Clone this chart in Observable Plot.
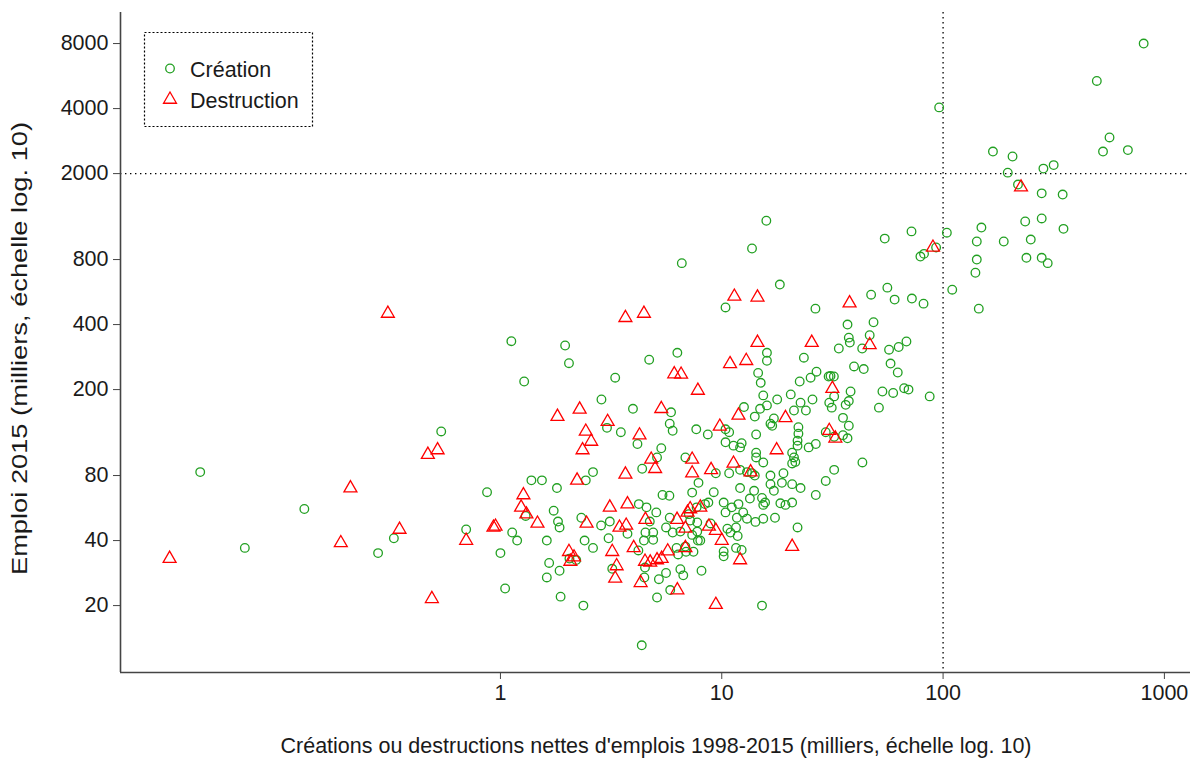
<!DOCTYPE html>
<html><head><meta charset="utf-8">
<script src="https://cdn.jsdelivr.net/npm/d3@7"></script>
<script src="https://cdn.jsdelivr.net/npm/@observablehq/plot@0.6"></script>
<style>
body{margin:0;background:#fff;}
#chart svg{display:block;}
</style></head><body><div id="chart"></div>
<script>
// Emploi 2015 vs créations / destructions nettes d'emplois 1998-2015 (milliers)
const creation = [
  [0.044,83],[0.13,56],[0.33,41],[0.70,45],[0.87,67],[0.28,35],[0.07,37],[0.54,128],
  [1.12,335],[1.96,320],[2.04,265],[1.28,218],[3.3,227],[2.86,180],[3.03,133],[3.5,127],[2.62,83],[1.38,76],[1.54,76],[2.43,76],
  [1.80,70],[1.30,52],[1.74,55],[1.82,49],[1.85,46],[2.32,51],[2.85,47],[3.12,49],[1.13,43.6],[1.19,40],[1.0,35],[1.62,40],[2.40,40],[2.62,37],[3.08,41],[2.2,32.5],[2.05,33],[1.66,31.5],[1.85,29],[1.62,27],[1.05,24],[1.87,22],[2.37,20],[3.2,29.6],
  [5.4,65],[5.8,64.5],[7.35,66.7],[7.85,74],[9.2,67],[4.22,59],[4.57,57],[5.06,54],[3.75,43],[4.73,49],[5.82,51],[7.1,53],[7.7,57],[8.4,59],[8.7,60],[7.2,49.5],[7.75,48.5],[6.5,44],[7.35,42.5],[7.75,44],[8.9,48],[7.8,40],[8.0,40],[5.6,46],[6.0,43.6],[4.52,43.6],[4.9,43.6],[4.45,40],[4.9,40.3],[4.2,36],[6.25,37],[6.85,37.5],[6.35,34.5],[6.9,35.5],[7.45,35.5],[4.5,30],[4.47,27],[5.2,26.5],[5.6,28.3],[6.5,29.5],[6.7,27.6],[8.1,29],[5.85,23.6],[5.1,21.8],[4.35,13.1],
  [6.3,296],[4.7,275],[3.97,163],[5.9,157],[5.82,139],[6.0,129],[4.16,112],[7.67,131],[8.65,124],[5.33,107],[5.1,97],[4.37,86],[6.85,97],[9.4,82],
  [10.4,480],[26.5,474],[16,296],[16,272],[23.5,281],[14.6,239],[15,215],[22.5,218],[25.2,227],[26.8,242],[15.4,188],[17.8,180],[20.5,190],[25.7,180],[16,169],[14.9,163],[14.1,150],[12.6,166],[22.7,174],[21.2,160],[24.0,160],[17.2,147],[16.6,139],[16.9,136],[22.2,134],[22.2,125],[22.0,116],[22.0,110],[10.4,131],[10.8,127],[14.3,124],[10.4,114],[11.3,110],[12.3,113],[12.1,108],[14.3,102],[14.3,97],[15.4,92],[20.8,102],[21.2,97],[21.5,92.5],[20.8,91],[24.7,108],[26.6,112],[10.8,82],[12.1,85],[13.0,83],[13.7,82],[14.1,80],[16.6,80],[19.0,82],
  [12.1,70],[14.0,68],[16.6,73],[17.2,68],[18.7,74],[20.8,73],[22.7,70],[26.6,65],[13.4,62.6],[15.2,63],[15.7,60],[15.4,58.5],[18.4,59.5],[19.4,58.5],[20.8,60],[10.2,60],[10.4,54],[11.1,57],[11.9,59],[11.7,51],[12.5,54],[13.0,50.5],[14.2,48.8],[15.4,50.5],[17.4,51],[10.6,45.4],[10.95,43.6],[11.6,46],[11.8,42],[10.2,35.6],[10.2,33.8],[11.6,37],[12.3,36.2],[22,46],[15.2,20],
  [56,593],[47.3,550],[60.4,522],[72.3,528],[81.6,500],[110,580],[145,474],[37,400],[48.5,410],[37.5,348],[37.9,330],[33.8,310],[43.1,310],[46.6,357],[57,306],[63,315],[68.3,334],[39.6,256],[43.8,249],[57.9,264],[62.4,240],[30.4,230],[32.1,230],[31,231],[38.2,196],[32.2,186],[30.6,174],[31.4,165],[37.5,177],[36.3,170],[53.2,196],[59.5,193],[66.7,203],[69.8,200],[87,186],[51.3,165],[35.3,148],[37.5,136],[29.5,127],[35.3,123],[37,119],[32.2,121],[43.2,92],[32.2,85],[29.5,75.5],
  [806,8000],[495,5370],[96,4050],[565,2940],[528,2530],[684,2570],[168,2530],[206,2400],[284,2110],[316,2190],[196,2020],[218,1780],[279,1620],[347,1600],[235,1200],[279,1240],[350,1110],[149,1125],[72,1080],[104,1065],[54.5,1000],[93,910],[79,826],[82,850],[142,970],[188,970],[249,990],[142,800],[140,695],[238,815],[279,815],[297,770],
  [15.9,1210],[13.7,900],[6.6,770],[18.3,613]
];
const destruction = [
  [0.31,450],[0.47,100],[0.52,105],[0.21,70],[0.35,45],[0.70,40],[0.19,39],[0.032,33],[0.49,21.5],
  [1.81,150],[2.28,162],[3.05,142],[2.43,128],[2.57,115],[2.35,105],[2.22,76],
  [1.27,65],[1.24,57],[1.31,53],[0.93,46],[0.95,46.5],[1.47,48],[2.45,48],[3.12,57],[2.04,35.5],[2.07,32],[2.15,33.5],[3.2,35.5],[3.35,30.5],[3.3,26.7],
  [3.75,59],[3.7,47],[3.45,46],[4.52,50],[6.28,50],[7.0,54],[7.2,56],[8.0,57],[6.85,45.5],[8.75,46.5],[9.4,44.5],[4.0,37],[5.7,35.7],[6.85,37],[4.5,32],[4.75,31.7],[5.1,32.5],[5.35,33],[4.3,25.5],[6.3,23.6],[9.4,20.2],
  [3.67,430],[4.45,450],[6.1,236],[6.55,235],[7.8,198],[5.33,163],[4.25,123],[4.8,95],[5.0,86],[7.35,95],[3.67,81],[7.35,82],[8.95,85],[9.8,135],
  [11.4,540],[14.5,535],[14.5,330],[25.5,330],[10.9,263],[12.9,272],[11.9,152],[19.4,148],[17.7,105],[11.3,91],[13.5,83],
  [10.0,40],[12.1,32.5],[20.8,37.5],
  [37.8,503],[46.6,322],[31.6,202],[30.6,129],[32.6,119],
  [225,1730],[90,910]
];
const xTicks = [1, 10, 100, 1000];
const yTicks = [20, 40, 80, 200, 400, 800, 2000, 4000, 8000];
const xRef = [100];
const yRef = [2000];
const xDomain = [0.0192, 1312];
const yDomain = [9.8, 11140];
const xTitle = "Créations ou destructions nettes d'emplois 1998-2015 (milliers, échelle log. 10)";
const yTitle = "Emploi 2015 (milliers, échelle log. 10)";
const legendLabels = ["Création", "Destruction"];

const font = "'Liberation Sans', Arial, sans-serif";
const green = "#22a022", red = "#ff0000", axisColor = "#444", textColor = "#1a1a1a";
const W = 1191, H = 760;

const svg = Plot.plot({
  width: W, height: H,
  marginLeft: 120, marginRight: 1, marginTop: 12, marginBottom: 88,
  style: {fontFamily: font, fontSize: "21.5px", background: "white", color: textColor, overflow: "visible"},
  x: {type: "log", domain: xDomain},
  y: {type: "log", domain: yDomain},
  marks: [
    Plot.ruleX(xRef, {stroke: "#000", strokeWidth: 1.3, strokeDasharray: "1.4,3.6"}),
    Plot.ruleY(yRef, {stroke: "#000", strokeWidth: 1.3, strokeDasharray: "1.4,3.6"}),
    Plot.ruleX([xDomain[0]], {stroke: axisColor, strokeWidth: 1.6}),
    Plot.ruleY([yDomain[0]], {stroke: axisColor, strokeWidth: 1.6}),
    Plot.axisX({ticks: xTicks, tickFormat: d => String(d), tickSize: 7, tickPadding: 5, label: null, stroke: axisColor, fontSize: 21.5}),
    Plot.axisY({ticks: yTicks, tickFormat: () => "", tickSize: 7, tickPadding: 5, label: null, stroke: axisColor}),
    Plot.text(yTicks, {x: xDomain[0], y: d => d, text: d => String(d), textAnchor: "end", dx: -12, fontSize: 21.5, fill: textColor}),
    Plot.dot(creation, {x: d => d[0], y: d => d[1], r: 4.3, symbol: "circle", stroke: green, strokeWidth: 1.3, fill: "none"}),
    Plot.dot(destruction, {x: d => d[0], y: d => d[1], r: 4.8, symbol: "triangle", stroke: red, strokeWidth: 1.3, fill: "none"})
  ]
});
document.getElementById("chart").appendChild(svg);

const s = d3.select(svg);
const ys = svg.scale("y");

// axis titles
s.append("text").attr("x", 656).attr("y", 753).attr("text-anchor", "middle")
  .attr("font-family", font).attr("font-size", 21.5).attr("fill", textColor).text(xTitle);
s.append("text").attr("transform", `translate(27,348.5) rotate(-90) scale(1.24,1)`)
  .attr("text-anchor", "middle").attr("font-family", font).attr("font-size", 22).attr("fill", textColor).text(yTitle);

// legend
const lg = s.append("g");
lg.append("rect").attr("x", 144.5).attr("y", 32.5).attr("width", 168).attr("height", 94)
  .attr("fill", "white").attr("stroke", "#000").attr("stroke-width", 1.2).attr("stroke-dasharray", "2,2");
const sym = [d3.symbolCircle, d3.symbolTriangle];
const rr = [4.3, 4.8];
const cols = [green, red];
const ly = [68.5, 99.5];
legendLabels.forEach((lab, i) => {
  lg.append("path").attr("d", d3.symbol(sym[i], rr[i] * rr[i] * Math.PI)())
    .attr("transform", `translate(170,${ly[i]})`).attr("fill", "none").attr("stroke", cols[i]).attr("stroke-width", 1.3);
  lg.append("text").attr("x", 190).attr("y", ly[i] + 8.5).attr("text-anchor", "start")
    .attr("font-family", font).attr("font-size", 21.5).attr("fill", textColor).text(lab);
});
</script></body></html>
